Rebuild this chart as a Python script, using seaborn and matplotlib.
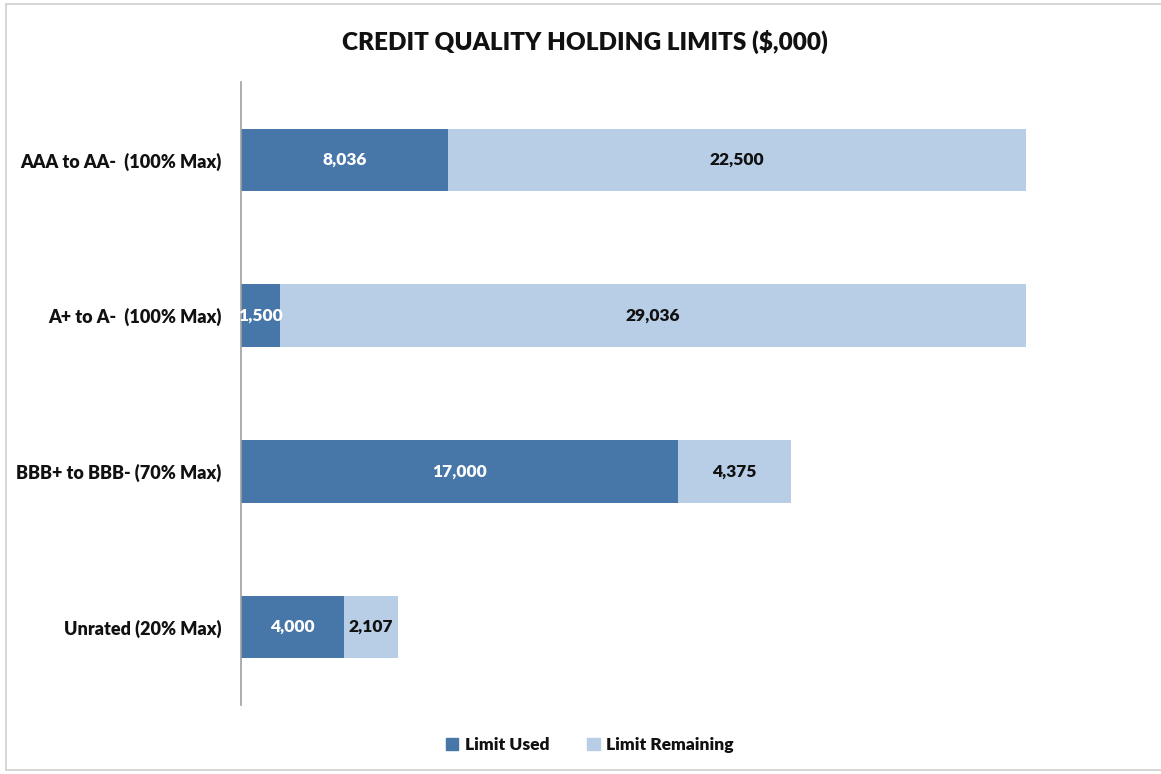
import matplotlib
matplotlib.use("Agg")
import matplotlib.pyplot as plt
import matplotlib.patches as mpatches
import pandas as pd
import seaborn as sns

# values ($,000)
categories = ["AAA to AA-  (100% Max)", "A+ to A-  (100% Max)",
              "BBB+ to BBB- (70% Max)", "Unrated (20% Max)"]
limit_used = [8036, 1500, 17000, 4000]
limit_remaining = [22500, 29036, 4375, 2107]

used_color = "#4677a8"
remain_color = "#b8cde6"

df = pd.DataFrame({"category": categories, "used": limit_used,
                   "remaining": limit_remaining})
df["total"] = df["used"] + df["remaining"]

sns.set_style("white")
plt.rcParams["font.family"] = ["Lato", "DejaVu Sans"]

fig = plt.figure(figsize=(11.61, 7.74), dpi=100)
ax = fig.add_axes([241 / 1161, 69 / 774, 900 / 1161, 623 / 774])

# stacked: full length in light colour, used part drawn over it
sns.barplot(data=df, x="total", y="category", color=remain_color,
            orient="h", width=0.4, saturation=1, ax=ax, errorbar=None,
            linewidth=0)
sns.barplot(data=df, x="used", y="category", color=used_color,
            orient="h", width=0.4, saturation=1, ax=ax, errorbar=None,
            linewidth=0)

for i, row in df.iterrows():
    ax.text(row["used"] / 2, i, f"{row['used']:,}", ha="center", va="center",
            color="white", fontsize=12.5, fontweight="heavy")
    ax.text(row["used"] + row["remaining"] / 2, i, f"{row['remaining']:,}",
            ha="center", va="center", color="#111111", fontsize=12.5,
            fontweight="heavy")

ax.set_xlim(0, 35000)
ax.set_ylim(3.5, -0.5)
ax.set_xlabel("")
ax.set_ylabel("")
ax.set_xticks([])
for side in ["top", "right", "bottom"]:
    ax.spines[side].set_visible(False)
ax.spines["left"].set_color("#a0a0a0")
ax.spines["left"].set_linewidth(1.2)
ax.tick_params(axis="y", length=0, pad=14, labelsize=13, colors="#111111")
for lbl in ax.get_yticklabels():
    lbl.set_fontweight("heavy")

fig.text(0.504, 1 - 42 / 774, "CREDIT QUALITY HOLDING LIMITS ($,000)",
         ha="center", va="center", fontsize=17.5, fontweight="heavy",
         color="#111111")

handles = [mpatches.Patch(color=used_color, label="Limit Used"),
           mpatches.Patch(color=remain_color, label="Limit Remaining")]
leg = fig.legend(handles=handles, loc="center", ncol=2, frameon=False,
                 bbox_to_anchor=(0.508, 1 - 745 / 774), handlelength=0.7,
                 handleheight=0.7, handletextpad=0.4, columnspacing=2.2,
                 prop={"size": 12.5, "weight": "heavy"})
for t in leg.get_texts():
    t.set_color("#111111")

# light frame around chart area
fig.add_artist(plt.Line2D([6 / 1161, 6 / 1161], [4 / 774, 1 - 4 / 774],
                          transform=fig.transFigure, color="#d0d0d0", lw=1.2))
fig.add_artist(plt.Line2D([6 / 1161, 1], [1 - 4 / 774, 1 - 4 / 774],
                          transform=fig.transFigure, color="#d0d0d0", lw=1.2))
fig.add_artist(plt.Line2D([6 / 1161, 1], [4 / 774, 4 / 774],
                          transform=fig.transFigure, color="#d0d0d0", lw=1.2))

fig.savefig("out.png", dpi=100, facecolor="white")
